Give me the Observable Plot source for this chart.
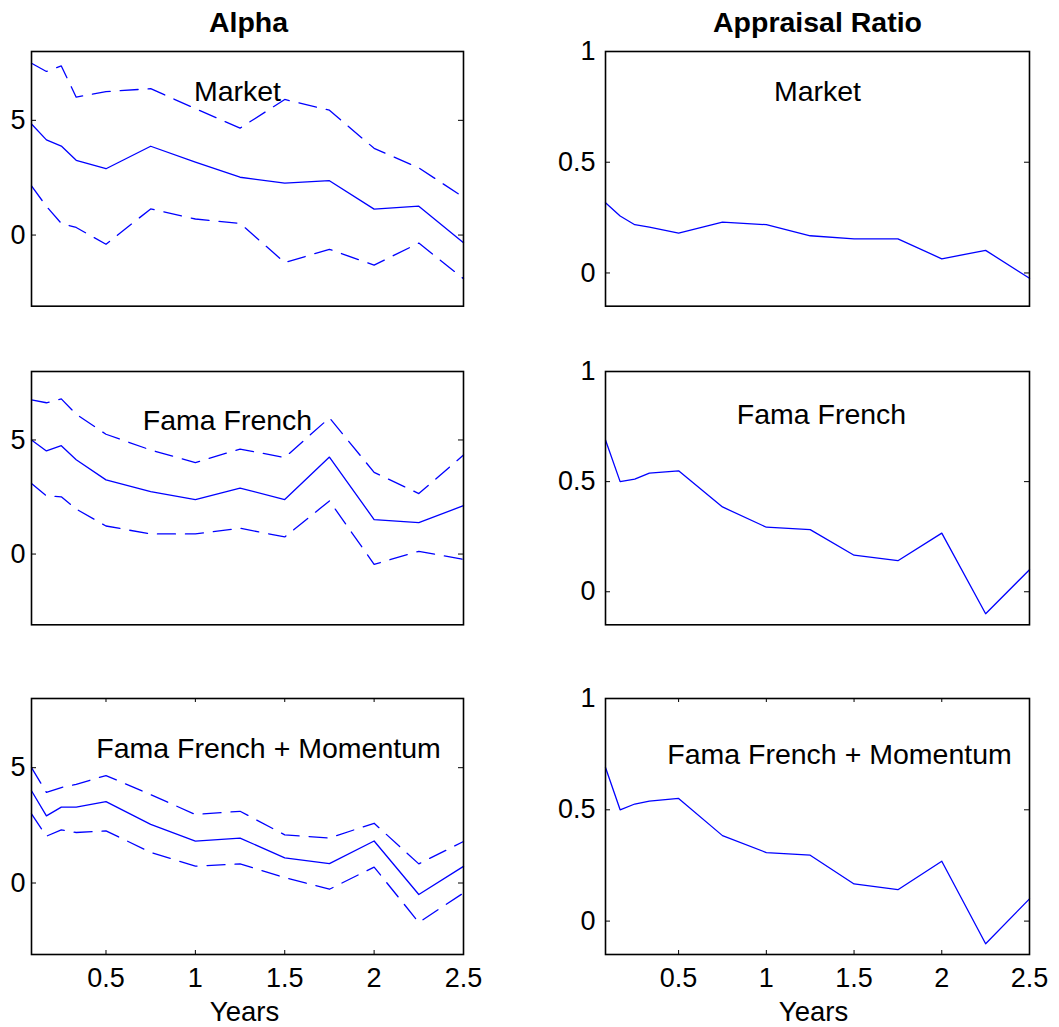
<!DOCTYPE html>
<html>
<head>
<meta charset="utf-8">
<script src="https://cdn.jsdelivr.net/npm/d3@7"></script>
<script src="https://cdn.jsdelivr.net/npm/@observablehq/plot@0.6"></script>
<style>
  body { margin: 0; background: #fff; }
  #fig { position: relative; width: 1059px; height: 1027px; background: #fff; overflow: hidden; }
  #fig svg { position: absolute; overflow: visible; background: transparent; }
</style>
</head>
<body>
<div id="fig"></div>
<script>
// ---------------- data ----------------
const years = [0.0833, 0.1667, 0.25, 0.3333, 0.5, 0.75, 1, 1.25, 1.5, 1.75, 2, 2.25, 2.5];
const yearTicks = [0.5, 1, 1.5, 2, 2.5];
const alphaTicks = [0, 5];
const ratioTicks = [0, 0.5, 1];
const columnTitles = ["Alpha", "Appraisal Ratio"];
const modelNames = ["Market", "Fama French", "Fama French + Momentum"];
const xLabel = "Years";

// Alpha (solid) with dashed confidence bands
const alphaMarket      = [4.84, 4.15, 3.88, 3.26, 2.89, 3.87, 3.18, 2.52, 2.26, 2.37, 1.13, 1.26, -0.34];
const alphaMarketUpper = [7.49, 7.13, 7.37, 6.01, 6.25, 6.38, 5.51, 4.66, 5.91, 5.44, 3.78, 2.93, 1.65];
const alphaMarketLower = [2.14, 1.25, 0.51, 0.33, -0.40, 1.14, 0.70, 0.51, -1.20, -0.62, -1.31, -0.35, -1.90];

const alphaFF      = [5.00, 4.52, 4.75, 4.13, 3.25, 2.74, 2.39, 2.89, 2.39, 4.25, 1.51, 1.38, 2.12];
const alphaFFUpper = [6.76, 6.63, 6.80, 6.13, 5.25, 4.56, 4.01, 4.60, 4.23, 5.97, 3.58, 2.65, 4.34];
const alphaFFLower = [3.09, 2.55, 2.51, 1.97, 1.23, 0.88, 0.88, 1.13, 0.75, 2.33, -0.45, 0.12, -0.23];

const alphaFFM      = [4.00, 2.91, 3.29, 3.29, 3.53, 2.54, 1.82, 1.95, 1.09, 0.84, 1.82, -0.50, 0.72];
const alphaFFMUpper = [5.00, 3.93, 4.14, 4.28, 4.66, 3.83, 2.97, 3.11, 2.09, 1.95, 2.59, 0.83, 1.80];
const alphaFFMLower = [3.00, 2.03, 2.30, 2.19, 2.26, 1.33, 0.73, 0.83, 0.23, -0.27, 0.69, -1.71, -0.43];

// Appraisal ratio
const ratioMarket = [0.317, 0.257, 0.218, 0.207, 0.180, 0.230, 0.218, 0.168, 0.154, 0.154, 0.064, 0.102, -0.024];
const ratioFF     = [0.689, 0.500, 0.511, 0.539, 0.549, 0.385, 0.293, 0.282, 0.166, 0.141, 0.266, -0.100, 0.100];
const ratioFFM    = [0.690, 0.500, 0.526, 0.539, 0.551, 0.384, 0.308, 0.296, 0.167, 0.141, 0.269, -0.102, 0.100];

// ---------------- layout / style ----------------
const FONT = "'Liberation Sans', Arial, Helvetica, sans-serif";
const BLUE = "#0000ff";
const cols = [
  {left: 31, right: 463, gap: 6, mL: 31, domain: [-3.1, 8], ticks: alphaTicks, titleDx: 1, yearsDx: -3},
  {left: 605, right: 1029, gap: 10, mL: 70, domain: [-0.15, 1], ticks: ratioTicks, titleDx: 0, yearsDx: -4}
];
const rows = [
  {top: 51, bottom: 305.7},
  {top: 371, bottom: 624.3},
  {top: 698.3, bottom: 954.3}
];
const annot = [
  [{dx: -10, dy: 50}, {dx: 0, dy: 50}],
  [{dx: -20, dy: 59}, {dx: 4, dy: 53}],
  [{dx: 21, dy: 59}, {dx: 22, dy: 65}]
];

const alphaSeries = [
  [alphaMarket, alphaMarketUpper, alphaMarketLower],
  [alphaFF, alphaFFUpper, alphaFFLower],
  [alphaFFM, alphaFFMUpper, alphaFFMLower]
];
const ratioSeries = [ratioMarket, ratioFF, ratioFFM];

const fig = document.getElementById("fig");

for (let r = 0; r < 3; r++) {
  for (let c = 0; c < 2; c++) {
    const col = cols[c], row = rows[r];
    const w = col.right - col.left, h = row.bottom - row.top;
    const mL = col.mL, mR = 30, mT = 50, mB = r === 2 ? 70 : 10;
    const isBottom = r === 2;

    const marks = [];
    if (c === 0) {
      const [est, hi, lo] = alphaSeries[r];
      const table = years.map((t, i) => ({t, est: est[i], hi: hi[i], lo: lo[i]}));
      marks.push(Plot.line(table, {x: "t", y: "hi", stroke: BLUE, strokeWidth: 1.3, strokeDasharray: "18,10"}));
      marks.push(Plot.line(table, {x: "t", y: "lo", stroke: BLUE, strokeWidth: 1.3, strokeDasharray: "18,10"}));
      marks.push(Plot.line(table, {x: "t", y: "est", stroke: BLUE, strokeWidth: 1.3}));
    } else {
      const s = ratioSeries[r];
      const table = years.map((t, i) => ({t, v: s[i]}));
      marks.push(Plot.line(table, {x: "t", y: "v", stroke: BLUE, strokeWidth: 1.3}));
    }
    // inward y ticks on both sides
    marks.push(Plot.tickY(col.ticks, {y: d => d, stroke: "black", strokeWidth: 1, insetRight: w - 5}));
    marks.push(Plot.tickY(col.ticks, {y: d => d, stroke: "black", strokeWidth: 1, insetLeft: w - 5}));
    marks.push(Plot.axisY({ticks: col.ticks, tickSize: 0, tickPadding: col.gap, label: null,
      fontSize: 27, fill: "black", tickFormat: d => String(d)}));
    if (isBottom) {
      marks.push(Plot.tickX(yearTicks, {x: d => d, stroke: "black", strokeWidth: 1, insetTop: h - 4}));
      marks.push(Plot.tickX(yearTicks, {x: d => d, stroke: "black", strokeWidth: 1, insetBottom: h - 4}));
      marks.push(Plot.axisX({ticks: yearTicks, tickSize: 0, tickPadding: 13, label: null,
        fontSize: 27, fill: "black", tickFormat: d => String(d)}));
      marks.push(Plot.text([xLabel], {text: d => d, frameAnchor: "bottom", lineAnchor: "bottom",
        dx: col.yearsDx, dy: 66.5, fontSize: 27.5, fill: "black"}));
    }
    if (r === 0) {
      marks.push(Plot.text([columnTitles[c]], {text: d => d, frameAnchor: "top", lineAnchor: "bottom",
        dx: col.titleDx, dy: -19, fontSize: 28.5, fontWeight: "bold", fill: "black"}));
    }
    const a = annot[r][c];
    marks.push(Plot.text([modelNames[r]], {text: d => d, frameAnchor: "top", lineAnchor: "bottom",
      dx: a.dx, dy: a.dy, fontSize: 28.5, fill: "black"}));
    marks.push(Plot.frame({stroke: "black", strokeWidth: 1.6}));

    const svg = Plot.plot({
      width: mL + w + mR,
      height: mT + h + mB,
      marginLeft: mL, marginRight: mR, marginTop: mT, marginBottom: mB,
      x: {domain: [years[0], years[years.length - 1]], axis: isBottom ? undefined : null},
      y: {domain: col.domain},
      style: {fontFamily: FONT, fontSize: "27px", color: "black", background: "transparent", overflow: "visible"},
      marks
    });
    svg.style.left = (col.left - mL) + "px";
    svg.style.top = (row.top - mT) + "px";
    svg.style.maxWidth = "none";
    fig.appendChild(svg);
  }
}
</script>
</body>
</html>
